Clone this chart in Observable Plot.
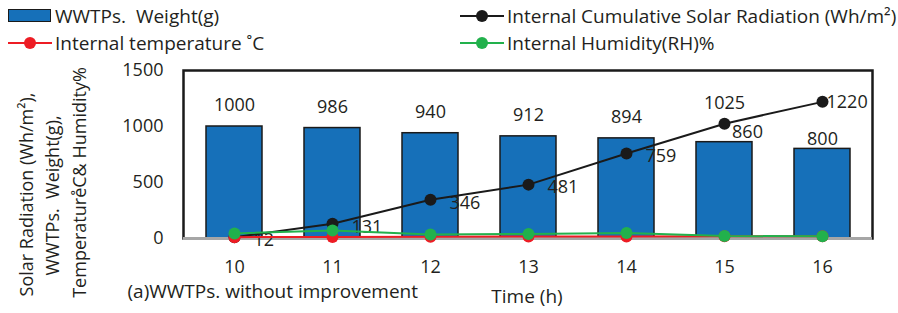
<!DOCTYPE html>
<html><head><meta charset="utf-8">
<script src="https://cdn.jsdelivr.net/npm/d3@7"></script>
<script src="https://cdn.jsdelivr.net/npm/@observablehq/plot@0.6"></script>
<style>
body{margin:0;background:#fff;font-family:"Open Sans",sans-serif;color:#231f20}
#legend{position:relative;width:898px;height:56px;font-size:19px}
.t{position:absolute;height:24px;line-height:24px;white-space:pre}
.sw{position:absolute}
#chart svg{display:block}
#chart svg text{white-space:pre}
</style></head><body>
<div id="legend"></div>
<div id="chart"></div>
<script>
const hours = ["10","11","12","13","14","15","16"];
const weight = [1000, 986, 940, 912, 894, 860, 800];
const solar = [12, 131, 346, 481, 759, 1025, 1220];
const temperature = [12, 14, 16, 18, 18, 20, 20];
const humidity = [45, 72, 36, 40, 50, 22, 20];
const yTicks = [0, 500, 1000, 1500];

const series = [
  {name:"WWTPs.  Weight(g)", color:"#1670b9", kind:"bar"},
  {name:"Internal Cumulative Solar Radiation (Wh/m²)", color:"#1a1a1a", kind:"line"},
  {name:"Internal temperature ˚C", color:"#ed1c24", kind:"line"},
  {name:"Internal Humidity(RH)%", color:"#22b14c", kind:"line"}
];

const data = hours.map((h,i)=>({hour:h, weight:weight[i], solar:solar[i], temp:temperature[i], hum:humidity[i]}));

// Legend
const legend = document.getElementById("legend");
const slots = [[8,16],[460,16],[8,43],[460,43]];
series.forEach((s,i)=>{
  const [x,cy] = slots[i];
  if (s.kind==="bar") {
    const r = document.createElement("div");
    r.className="sw";
    Object.assign(r.style,{left:x+"px",top:(cy-7)+"px",width:"41px",height:"11px",background:s.color,border:"1.5px solid #1a1a1a"});
    legend.appendChild(r);
  } else {
    const l = document.createElement("div");
    l.className="sw";
    Object.assign(l.style,{left:x+"px",top:(cy-1)+"px",width:"44px",height:"2px",background:s.color});
    legend.appendChild(l);
    const d = document.createElement("div");
    d.className="sw";
    Object.assign(d.style,{left:(x+16)+"px",top:(cy-6)+"px",width:"12px",height:"12px",borderRadius:"6px",background:s.color});
    legend.appendChild(d);
  }
  const t = document.createElement("div");
  t.className="t";
  t.textContent=s.name;
  Object.assign(t.style,{left:(x+47)+"px",top:(cy-12)+"px"});
  legend.appendChild(t);
});

const txt = "#231f20";
const plot = Plot.plot({
  width: 898, height: 257,
  marginTop: 14, marginBottom: 75, marginLeft: 183, marginRight: 26,
  style: {fontFamily: "'Open Sans', sans-serif", fontSize: "18px", color: txt, background: "#fff"},
  x: {type: "band", domain: hours, paddingInner: 0.43, paddingOuter: 0.215, label: null, tickSize: 0, tickPadding: 22},
  y: {domain: [0, 1500], ticks: yTicks, tickFormat: d => String(d), tickSize: 0, tickPadding: 20, label: null},
  marks: [
    Plot.barY(data, {x: "hour", y: "weight", fill: "#1670b9", stroke: "#1a1a1a", strokeWidth: 1.5}),
    Plot.frame({stroke: "#1a1a1a", strokeWidth: 2.5}),
    Plot.ruleY([0], {stroke: "#a6a6a6", strokeWidth: 3}),
    // weight labels
    Plot.text(data.filter(d => +d.hour <= 14), {x: "hour", y: "weight", text: d => String(d.weight), dy: -21, fill: txt}),
    Plot.text(data.filter(d => d.hour === "15"), {x: "hour", y: "weight", text: d => String(d.weight), dx: 23, dy: -10, fill: txt}),
    Plot.text(data.filter(d => d.hour === "16"), {x: "hour", y: "weight", text: d => String(d.weight), dy: -10, fill: txt}),
    // solar labels
    Plot.text(data.filter(d => +d.hour <= 14), {x: "hour", y: "solar", text: d => String(d.solar), textAnchor: "start", dx: 19, dy: 3, fill: txt}),
    Plot.text(data.filter(d => d.hour === "15"), {x: "hour", y: "solar", text: d => String(d.solar), dy: -20, fill: txt}),
    Plot.text(data.filter(d => d.hour === "16"), {x: "hour", y: "solar", text: d => String(d.solar), textAnchor: "start", dx: 4, fill: txt}),
    Plot.line(data, {x: "hour", y: "solar", stroke: "#1a1a1a", strokeWidth: 2}),
    Plot.dot(data, {x: "hour", y: "solar", r: 6, fill: "#1a1a1a"}),
    Plot.line(data, {x: "hour", y: "temp", stroke: "#ed1c24", strokeWidth: 2}),
    Plot.dot(data, {x: "hour", y: "temp", r: 6, fill: "#ed1c24"}),
    Plot.line(data, {x: "hour", y: "hum", stroke: "#22b14c", strokeWidth: 2}),
    Plot.dot(data, {x: "hour", y: "hum", r: 6, fill: "#22b14c"}),
    // axis titles
    Plot.text(["Time (h)"], {frameAnchor: "bottom", text: d => d, dx: -1, dy: 64, fontSize: 19, fill: txt}),
    Plot.text(["(a)WWTPs. without improvement"], {frameAnchor: "bottom-left", text: d => d, textAnchor: "start", dx: -56, dy: 59, fontSize: 19, fill: txt}),
    Plot.text(["Solar Radiation (Wh/m²),"], {frameAnchor: "left", text: d => d, rotate: -90, textAnchor: "middle", dx: -156, dy: 40, fill: txt}),
    Plot.text(["WWTPs.  Weight(g),"], {frameAnchor: "left", text: d => d, rotate: -90, textAnchor: "middle", dx: -130, dy: 41, fill: txt}),
    Plot.text(["Temperature\u030AC& Humidity%"], {frameAnchor: "left", text: d => d, rotate: -90, textAnchor: "middle", dx: -103, dy: 28, fill: txt})
  ]
});
document.getElementById("chart").appendChild(plot);
</script>
</body></html>
